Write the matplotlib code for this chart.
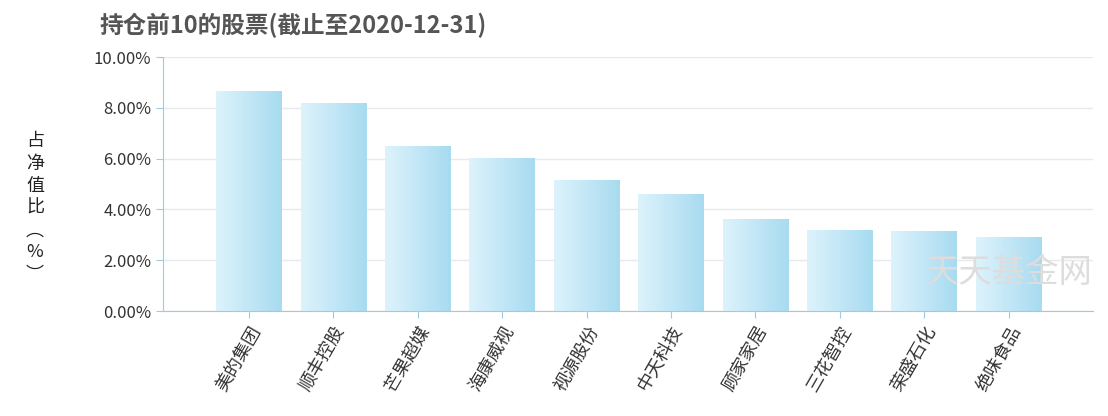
import matplotlib
matplotlib.use("Agg")
import matplotlib.pyplot as plt
import numpy as np
from matplotlib.colors import LinearSegmentedColormap

plt.rcParams['font.family'] = ['Noto Sans CJK SC', 'DejaVu Sans']

categories = ["美的集团", "顺丰控股", "芒果超媒", "海康威视", "视源股份",
              "中天科技", "顾家家居", "三花智控", "荣盛石化", "绝味食品"]
values = [8.66, 8.19, 6.50, 6.02, 5.16, 4.61, 3.62, 3.19, 3.15, 2.91]
yticks = [0, 2, 4, 6, 8, 10]
ytick_labels = ["0.00%", "2.00%", "4.00%", "6.00%", "8.00%", "10.00%"]

fig = plt.figure(figsize=(11.08, 4.16), dpi=100)
ax = fig.add_axes([163/1108, 1-311/416, 930/1108, 254/416])
x = np.arange(len(categories))
w = 0.78
bars = ax.bar(x, values, width=w, color='none', zorder=2)
cmap = LinearSegmentedColormap.from_list("g", ["#ddf3fc", "#a8dbf0"])
grad = np.linspace(0, 1, 100).reshape(1, -1)
for b in bars:
    x0, y0 = b.get_x(), b.get_y()
    im = ax.imshow(grad, cmap=cmap, aspect='auto', extent=[x0, x0 + b.get_width(), y0, y0 + b.get_height()], zorder=2)
    im.set_clip_path(b)
ax.set_xlim(-1.02, 10)
ax.set_ylim(0, 10)
ax.set_yticks(yticks)
ax.set_yticklabels(ytick_labels, fontsize=12, color='#333333')
ax.set_xticks(x)
ax.set_xticklabels(categories, rotation=60, fontsize=13, color='#333333', ha='right', rotation_mode='anchor')
ax.grid(axis='y', color='#e6e9ee', linewidth=1, zorder=0)
for s in ['top', 'right']:
    ax.spines[s].set_visible(False)
for s in ['left', 'bottom']:
    ax.spines[s].set_color('#9ecbe0')
ax.tick_params(axis='both', colors='#9ecbe0', labelcolor='#333333', length=5)
fig.text(0.09, 0.97, "持仓前10的股票(截止至2020-12-31)", fontsize=17, fontweight='bold', color='#555555', va='top', ha='left')
fig.text(35/1108, 0.5, "占\n净\n值\n比\n︵\n%\n︶", fontsize=13, color='#222222', ha='center', va='center', linespacing=1.3)
ax.text(9.0, 1.5, "天天基金网", fontsize=24, color='#dddddd', ha='center', va='center', zorder=3)
fig.savefig("out.png", dpi=100)
